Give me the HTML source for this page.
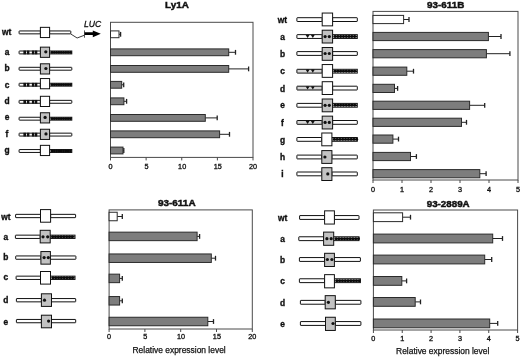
<!DOCTYPE html>
<html><head><meta charset="utf-8"><style>html,body{margin:0;padding:0;background:#fff;width:520px;height:357px;overflow:hidden;}svg{display:block;will-change:transform;}</style></head><body>
<svg width="520" height="357" viewBox="0 0 520 357" font-family='"Liberation Sans", sans-serif' fill="#111">
<text x="176.9" y="8.3" font-size="9.7" font-weight="bold" text-anchor="middle" textLength="23.8" lengthAdjust="spacingAndGlyphs" stroke="#111" stroke-width="0.45">Ly1A</text>
<rect x="110.5" y="22.3" width="142.5" height="135.1" fill="none" stroke="#4a4a4a" stroke-width="1"/>
<line x1="110.5" y1="157.4" x2="110.5" y2="160.4" stroke="#4a4a4a" stroke-width="1"/>
<text x="110.5" y="168.7" font-size="6.6" text-anchor="middle" textLength="4.04" lengthAdjust="spacingAndGlyphs" stroke="#111" stroke-width="0.3">0</text>
<line x1="146.12" y1="157.4" x2="146.12" y2="160.4" stroke="#4a4a4a" stroke-width="1"/>
<text x="146.53" y="168.7" font-size="6.6" text-anchor="middle" textLength="4.04" lengthAdjust="spacingAndGlyphs" stroke="#111" stroke-width="0.3">5</text>
<line x1="181.75" y1="157.4" x2="181.75" y2="160.4" stroke="#4a4a4a" stroke-width="1"/>
<text x="182.15" y="168.7" font-size="6.6" text-anchor="middle" textLength="8.07" lengthAdjust="spacingAndGlyphs" stroke="#111" stroke-width="0.3">10</text>
<line x1="217.38" y1="157.4" x2="217.38" y2="160.4" stroke="#4a4a4a" stroke-width="1"/>
<text x="217.78" y="168.7" font-size="6.6" text-anchor="middle" textLength="8.07" lengthAdjust="spacingAndGlyphs" stroke="#111" stroke-width="0.3">15</text>
<line x1="253" y1="157.4" x2="253" y2="160.4" stroke="#4a4a4a" stroke-width="1"/>
<text x="253" y="168.7" font-size="6.6" text-anchor="middle" textLength="8.07" lengthAdjust="spacingAndGlyphs" stroke="#111" stroke-width="0.3">20</text>
<line x1="119" y1="34.3" x2="120.6" y2="34.3" stroke="#222" stroke-width="1"/>
<line x1="120.6" y1="31.9" x2="120.6" y2="36.7" stroke="#222" stroke-width="1.3"/>
<rect x="110.5" y="30.9" width="8.5" height="6.8" fill="#ffffff" stroke="#2b2b2b" stroke-width="1"/>
<line x1="228.7" y1="52.3" x2="235.5" y2="52.3" stroke="#222" stroke-width="1"/>
<line x1="235.5" y1="49.9" x2="235.5" y2="54.7" stroke="#222" stroke-width="1.3"/>
<rect x="110.5" y="48.9" width="118.2" height="6.8" fill="#7d7d7d" stroke="#2b2b2b" stroke-width="1"/>
<line x1="228.7" y1="68.9" x2="248.6" y2="68.9" stroke="#222" stroke-width="1"/>
<line x1="248.6" y1="66.5" x2="248.6" y2="71.3" stroke="#222" stroke-width="1.3"/>
<rect x="110.5" y="65.5" width="118.2" height="6.8" fill="#7d7d7d" stroke="#2b2b2b" stroke-width="1"/>
<line x1="121.7" y1="84.8" x2="123.7" y2="84.8" stroke="#222" stroke-width="1"/>
<line x1="123.7" y1="82.4" x2="123.7" y2="87.2" stroke="#222" stroke-width="1.3"/>
<rect x="110.5" y="81.4" width="11.2" height="6.8" fill="#7d7d7d" stroke="#2b2b2b" stroke-width="1"/>
<line x1="123.9" y1="101.3" x2="126.6" y2="101.3" stroke="#222" stroke-width="1"/>
<line x1="126.6" y1="98.9" x2="126.6" y2="103.7" stroke="#222" stroke-width="1.3"/>
<rect x="110.5" y="97.9" width="13.4" height="6.8" fill="#7d7d7d" stroke="#2b2b2b" stroke-width="1"/>
<line x1="205.3" y1="117.9" x2="217.2" y2="117.9" stroke="#222" stroke-width="1"/>
<line x1="217.2" y1="115.5" x2="217.2" y2="120.3" stroke="#222" stroke-width="1.3"/>
<rect x="110.5" y="114.5" width="94.8" height="6.8" fill="#7d7d7d" stroke="#2b2b2b" stroke-width="1"/>
<line x1="219.6" y1="134.3" x2="229.5" y2="134.3" stroke="#222" stroke-width="1"/>
<line x1="229.5" y1="131.9" x2="229.5" y2="136.7" stroke="#222" stroke-width="1.3"/>
<rect x="110.5" y="130.9" width="109.1" height="6.8" fill="#7d7d7d" stroke="#2b2b2b" stroke-width="1"/>
<line x1="123" y1="150.5" x2="123.8" y2="150.5" stroke="#222" stroke-width="1"/>
<line x1="123.8" y1="148.1" x2="123.8" y2="152.9" stroke="#222" stroke-width="1.3"/>
<rect x="110.5" y="147.1" width="12.5" height="6.8" fill="#7d7d7d" stroke="#2b2b2b" stroke-width="1"/>
<text x="6.6" y="35" font-size="8.4" font-weight="bold" text-anchor="middle" stroke="#111" stroke-width="0.35">wt</text>
<rect x="19.1" y="30.95" width="21.3" height="2.9" rx="0.4" fill="#ffffff" stroke="#111" stroke-width="1"/>
<rect x="49.6" y="30.95" width="21.2" height="2.9" rx="0.4" fill="#ffffff" stroke="#111" stroke-width="1"/>
<rect x="40.4" y="27.35" width="9.2" height="10.2" fill="#ffffff" stroke="#111" stroke-width="1"/>
<text x="7" y="55" font-size="8.4" font-weight="bold" text-anchor="middle" stroke="#111" stroke-width="0.35">a</text>
<rect x="19.1" y="51" width="21.3" height="2.9" rx="0.4" fill="#ffffff" stroke="#111" stroke-width="1"/>
<rect x="23.4" y="50.6" width="2.6" height="3.7" fill="#111"/>
<rect x="26.9" y="50.6" width="2.5" height="3.7" fill="#111"/>
<rect x="31.9" y="50.6" width="2.5" height="3.7" fill="#111"/>
<rect x="35" y="50.6" width="2.3" height="3.7" fill="#111"/>
<rect x="49.6" y="51" width="22.2" height="2.9" fill="#ffffff" stroke="#111" stroke-width="1"/>
<rect x="50.6" y="51.81" width="20.9" height="1.28" fill="#0a0a0a"/>
<circle cx="52" cy="52.45" r="1.4" fill="#0a0a0a"/>
<circle cx="54.3" cy="52.45" r="1.4" fill="#0a0a0a"/>
<circle cx="56.6" cy="52.45" r="1.4" fill="#0a0a0a"/>
<circle cx="58.9" cy="52.45" r="1.4" fill="#0a0a0a"/>
<circle cx="61.2" cy="52.45" r="1.4" fill="#0a0a0a"/>
<circle cx="63.5" cy="52.45" r="1.4" fill="#0a0a0a"/>
<circle cx="65.8" cy="52.45" r="1.4" fill="#0a0a0a"/>
<circle cx="68.1" cy="52.45" r="1.4" fill="#0a0a0a"/>
<circle cx="70.4" cy="52.45" r="1.4" fill="#0a0a0a"/>
<rect x="40.4" y="47.15" width="9.2" height="10.2" fill="#c2c2c2" stroke="#111" stroke-width="1"/>
<circle cx="45.8" cy="51.85" r="1.6" fill="#111"/>
<text x="7" y="70.9" font-size="8.4" font-weight="bold" text-anchor="middle" stroke="#111" stroke-width="0.35">b</text>
<rect x="19.1" y="67.3" width="21.3" height="2.9" rx="0.4" fill="#ffffff" stroke="#111" stroke-width="1"/>
<rect x="49.6" y="67.3" width="22.2" height="2.9" rx="0.4" fill="#ffffff" stroke="#111" stroke-width="1"/>
<rect x="40.4" y="63.8" width="9.2" height="10.2" fill="#c2c2c2" stroke="#111" stroke-width="1"/>
<circle cx="45.9" cy="68.5" r="1.6" fill="#111"/>
<text x="7" y="87.9" font-size="8.4" font-weight="bold" text-anchor="middle" stroke="#111" stroke-width="0.35">c</text>
<rect x="19.1" y="83.25" width="21.3" height="2.9" rx="0.4" fill="#ffffff" stroke="#111" stroke-width="1"/>
<rect x="23.4" y="82.85" width="2.6" height="3.7" fill="#111"/>
<rect x="26.9" y="82.85" width="2.5" height="3.7" fill="#111"/>
<rect x="31.9" y="82.85" width="2.5" height="3.7" fill="#111"/>
<rect x="35" y="82.85" width="2.3" height="3.7" fill="#111"/>
<rect x="49.6" y="83.25" width="22.2" height="2.9" fill="#ffffff" stroke="#111" stroke-width="1"/>
<rect x="50.6" y="84.06" width="20.9" height="1.28" fill="#0a0a0a"/>
<circle cx="52" cy="84.7" r="1.4" fill="#0a0a0a"/>
<circle cx="54.3" cy="84.7" r="1.4" fill="#0a0a0a"/>
<circle cx="56.6" cy="84.7" r="1.4" fill="#0a0a0a"/>
<circle cx="58.9" cy="84.7" r="1.4" fill="#0a0a0a"/>
<circle cx="61.2" cy="84.7" r="1.4" fill="#0a0a0a"/>
<circle cx="63.5" cy="84.7" r="1.4" fill="#0a0a0a"/>
<circle cx="65.8" cy="84.7" r="1.4" fill="#0a0a0a"/>
<circle cx="68.1" cy="84.7" r="1.4" fill="#0a0a0a"/>
<circle cx="70.4" cy="84.7" r="1.4" fill="#0a0a0a"/>
<rect x="40.4" y="78.55" width="9.2" height="10.2" fill="#ffffff" stroke="#111" stroke-width="1"/>
<text x="7" y="103.9" font-size="8.4" font-weight="bold" text-anchor="middle" stroke="#111" stroke-width="0.35">d</text>
<rect x="19.1" y="100.35" width="21.3" height="2.9" rx="0.4" fill="#ffffff" stroke="#111" stroke-width="1"/>
<rect x="23.4" y="99.95" width="2.6" height="3.7" fill="#111"/>
<rect x="26.9" y="99.95" width="2.5" height="3.7" fill="#111"/>
<rect x="31.9" y="99.95" width="2.5" height="3.7" fill="#111"/>
<rect x="35" y="99.95" width="2.3" height="3.7" fill="#111"/>
<rect x="49.6" y="100.35" width="22.2" height="2.9" rx="0.4" fill="#ffffff" stroke="#111" stroke-width="1"/>
<rect x="40.4" y="96.3" width="9.2" height="10.2" fill="#ffffff" stroke="#111" stroke-width="1"/>
<text x="7" y="120.2" font-size="8.4" font-weight="bold" text-anchor="middle" stroke="#111" stroke-width="0.35">e</text>
<rect x="19.1" y="117.25" width="21.3" height="2.9" rx="0.4" fill="#ffffff" stroke="#111" stroke-width="1"/>
<rect x="49.6" y="117.25" width="22.2" height="2.9" fill="#ffffff" stroke="#111" stroke-width="1"/>
<rect x="50.6" y="118.06" width="20.9" height="1.28" fill="#0a0a0a"/>
<circle cx="52" cy="118.7" r="1.4" fill="#0a0a0a"/>
<circle cx="54.3" cy="118.7" r="1.4" fill="#0a0a0a"/>
<circle cx="56.6" cy="118.7" r="1.4" fill="#0a0a0a"/>
<circle cx="58.9" cy="118.7" r="1.4" fill="#0a0a0a"/>
<circle cx="61.2" cy="118.7" r="1.4" fill="#0a0a0a"/>
<circle cx="63.5" cy="118.7" r="1.4" fill="#0a0a0a"/>
<circle cx="65.8" cy="118.7" r="1.4" fill="#0a0a0a"/>
<circle cx="68.1" cy="118.7" r="1.4" fill="#0a0a0a"/>
<circle cx="70.4" cy="118.7" r="1.4" fill="#0a0a0a"/>
<rect x="40.4" y="112.75" width="9.2" height="10.2" fill="#c2c2c2" stroke="#111" stroke-width="1"/>
<circle cx="45.1" cy="117.45" r="1.6" fill="#111"/>
<text x="7" y="136.9" font-size="8.4" font-weight="bold" text-anchor="middle" stroke="#111" stroke-width="0.35">f</text>
<rect x="19.1" y="133.15" width="21.3" height="2.9" rx="0.4" fill="#ffffff" stroke="#111" stroke-width="1"/>
<rect x="23.4" y="132.75" width="2.6" height="3.7" fill="#111"/>
<rect x="26.9" y="132.75" width="2.5" height="3.7" fill="#111"/>
<rect x="31.9" y="132.75" width="2.5" height="3.7" fill="#111"/>
<rect x="35" y="132.75" width="2.3" height="3.7" fill="#111"/>
<rect x="49.6" y="133.15" width="22.2" height="2.9" rx="0.4" fill="#ffffff" stroke="#111" stroke-width="1"/>
<rect x="40.4" y="129.25" width="9.2" height="10.2" fill="#c2c2c2" stroke="#111" stroke-width="1"/>
<circle cx="46" cy="133.95" r="1.6" fill="#111"/>
<text x="7" y="152.5" font-size="8.4" font-weight="bold" text-anchor="middle" stroke="#111" stroke-width="0.35">g</text>
<rect x="19.1" y="149.55" width="21.3" height="2.9" rx="0.4" fill="#ffffff" stroke="#111" stroke-width="1"/>
<rect x="49.6" y="149.55" width="22.2" height="2.9" fill="#ffffff" stroke="#111" stroke-width="1"/>
<rect x="50.6" y="150.36" width="20.9" height="1.28" fill="#0a0a0a"/>
<circle cx="52" cy="151" r="1.4" fill="#0a0a0a"/>
<circle cx="54.3" cy="151" r="1.4" fill="#0a0a0a"/>
<circle cx="56.6" cy="151" r="1.4" fill="#0a0a0a"/>
<circle cx="58.9" cy="151" r="1.4" fill="#0a0a0a"/>
<circle cx="61.2" cy="151" r="1.4" fill="#0a0a0a"/>
<circle cx="63.5" cy="151" r="1.4" fill="#0a0a0a"/>
<circle cx="65.8" cy="151" r="1.4" fill="#0a0a0a"/>
<circle cx="68.1" cy="151" r="1.4" fill="#0a0a0a"/>
<circle cx="70.4" cy="151" r="1.4" fill="#0a0a0a"/>
<rect x="40.4" y="145.35" width="9.2" height="10.2" fill="#ffffff" stroke="#111" stroke-width="1"/>
<path d="M70.8,34.0 L77.1,38.0 L84.5,35.2" fill="none" stroke="#222" stroke-width="0.9"/>
<line x1="84.5" y1="30.4" x2="84.5" y2="37.7" stroke="#444" stroke-width="0.9"/>
<path d="M84.6,32.3 L92.8,32.3 L92.8,30.4 L100.8,33.7 L92.8,37.3 L92.8,35.1 L84.6,35.1 Z" fill="#000"/>
<text x="84.0" y="26.8" font-size="8.6" font-style="italic" stroke="#111" stroke-width="0.3">LUC</text>
<text x="445.7" y="7.9" font-size="9.7" font-weight="bold" text-anchor="middle" textLength="37.2" lengthAdjust="spacingAndGlyphs" stroke="#111" stroke-width="0.45">93-611B</text>
<rect x="373" y="11.4" width="145" height="168.6" fill="none" stroke="#4a4a4a" stroke-width="1"/>
<line x1="373" y1="180" x2="373" y2="183" stroke="#4a4a4a" stroke-width="1"/>
<text x="373" y="191.5" font-size="6.6" text-anchor="middle" textLength="4.04" lengthAdjust="spacingAndGlyphs" stroke="#111" stroke-width="0.3">0</text>
<line x1="402" y1="180" x2="402" y2="183" stroke="#4a4a4a" stroke-width="1"/>
<text x="402" y="191.5" font-size="6.6" text-anchor="middle" textLength="4.04" lengthAdjust="spacingAndGlyphs" stroke="#111" stroke-width="0.3">1</text>
<line x1="431" y1="180" x2="431" y2="183" stroke="#4a4a4a" stroke-width="1"/>
<text x="431" y="191.5" font-size="6.6" text-anchor="middle" textLength="4.04" lengthAdjust="spacingAndGlyphs" stroke="#111" stroke-width="0.3">2</text>
<line x1="460" y1="180" x2="460" y2="183" stroke="#4a4a4a" stroke-width="1"/>
<text x="460" y="191.5" font-size="6.6" text-anchor="middle" textLength="4.04" lengthAdjust="spacingAndGlyphs" stroke="#111" stroke-width="0.3">3</text>
<line x1="489" y1="180" x2="489" y2="183" stroke="#4a4a4a" stroke-width="1"/>
<text x="489" y="191.5" font-size="6.6" text-anchor="middle" textLength="4.04" lengthAdjust="spacingAndGlyphs" stroke="#111" stroke-width="0.3">4</text>
<line x1="518" y1="180" x2="518" y2="183" stroke="#4a4a4a" stroke-width="1"/>
<text x="518" y="191.5" font-size="6.6" text-anchor="middle" textLength="4.04" lengthAdjust="spacingAndGlyphs" stroke="#111" stroke-width="0.3">5</text>
<line x1="403.6" y1="19.5" x2="409" y2="19.5" stroke="#222" stroke-width="1"/>
<line x1="409" y1="17.1" x2="409" y2="21.9" stroke="#222" stroke-width="1.3"/>
<rect x="373" y="15.4" width="30.6" height="8.2" fill="#ffffff" stroke="#2b2b2b" stroke-width="1"/>
<line x1="488.4" y1="36.5" x2="501" y2="36.5" stroke="#222" stroke-width="1"/>
<line x1="501" y1="34.1" x2="501" y2="38.9" stroke="#222" stroke-width="1.3"/>
<rect x="373" y="32.4" width="115.4" height="8.2" fill="#7d7d7d" stroke="#2b2b2b" stroke-width="1"/>
<line x1="486.4" y1="53.7" x2="509.9" y2="53.7" stroke="#222" stroke-width="1"/>
<line x1="509.9" y1="51.3" x2="509.9" y2="56.1" stroke="#222" stroke-width="1.3"/>
<rect x="373" y="49.6" width="113.4" height="8.2" fill="#7d7d7d" stroke="#2b2b2b" stroke-width="1"/>
<line x1="406.8" y1="71.2" x2="413.5" y2="71.2" stroke="#222" stroke-width="1"/>
<line x1="413.5" y1="68.8" x2="413.5" y2="73.6" stroke="#222" stroke-width="1.3"/>
<rect x="373" y="67.1" width="33.8" height="8.2" fill="#7d7d7d" stroke="#2b2b2b" stroke-width="1"/>
<line x1="394.5" y1="88.4" x2="397.6" y2="88.4" stroke="#222" stroke-width="1"/>
<line x1="397.6" y1="86" x2="397.6" y2="90.8" stroke="#222" stroke-width="1.3"/>
<rect x="373" y="84.3" width="21.5" height="8.2" fill="#7d7d7d" stroke="#2b2b2b" stroke-width="1"/>
<line x1="469.6" y1="105.3" x2="484.7" y2="105.3" stroke="#222" stroke-width="1"/>
<line x1="484.7" y1="102.9" x2="484.7" y2="107.7" stroke="#222" stroke-width="1.3"/>
<rect x="373" y="101.2" width="96.6" height="8.2" fill="#7d7d7d" stroke="#2b2b2b" stroke-width="1"/>
<line x1="461.5" y1="122.3" x2="466.5" y2="122.3" stroke="#222" stroke-width="1"/>
<line x1="466.5" y1="119.9" x2="466.5" y2="124.7" stroke="#222" stroke-width="1.3"/>
<rect x="373" y="118.2" width="88.5" height="8.2" fill="#7d7d7d" stroke="#2b2b2b" stroke-width="1"/>
<line x1="392.9" y1="139.1" x2="398.5" y2="139.1" stroke="#222" stroke-width="1"/>
<line x1="398.5" y1="136.7" x2="398.5" y2="141.5" stroke="#222" stroke-width="1.3"/>
<rect x="373" y="135" width="19.9" height="8.2" fill="#7d7d7d" stroke="#2b2b2b" stroke-width="1"/>
<line x1="410.5" y1="156.5" x2="416.4" y2="156.5" stroke="#222" stroke-width="1"/>
<line x1="416.4" y1="154.1" x2="416.4" y2="158.9" stroke="#222" stroke-width="1.3"/>
<rect x="373" y="152.4" width="37.5" height="8.2" fill="#7d7d7d" stroke="#2b2b2b" stroke-width="1"/>
<line x1="479.8" y1="173.7" x2="486.1" y2="173.7" stroke="#222" stroke-width="1"/>
<line x1="486.1" y1="171.3" x2="486.1" y2="176.1" stroke="#222" stroke-width="1.3"/>
<rect x="373" y="169.6" width="106.8" height="8.2" fill="#7d7d7d" stroke="#2b2b2b" stroke-width="1"/>
<text x="282.5" y="22.6" font-size="8.4" font-weight="bold" text-anchor="middle" stroke="#111" stroke-width="0.35">wt</text>
<rect x="296.9" y="17.7" width="25.3" height="3.8" rx="0.4" fill="#ffffff" stroke="#111" stroke-width="1"/>
<rect x="332.6" y="17.7" width="24.7" height="3.8" rx="0.4" fill="#ffffff" stroke="#111" stroke-width="1"/>
<rect x="322.2" y="13.05" width="10.4" height="12.8" fill="#ffffff" stroke="#111" stroke-width="1"/>
<text x="282.5" y="39.8" font-size="8.4" font-weight="bold" text-anchor="middle" stroke="#111" stroke-width="0.35">a</text>
<rect x="296.9" y="34.65" width="25.3" height="3.8" rx="0.4" fill="#ffffff" stroke="#111" stroke-width="1"/>
<path d="M305.7,35.05 Q307.6,34.25 309.5,35.05 L307.6,38.05 Z" fill="#111"/>
<path d="M310.9,35.05 Q312.8,34.25 314.7,35.05 L312.8,38.05 Z" fill="#111"/>
<rect x="332.6" y="34.65" width="24.7" height="3.8" fill="#ffffff" stroke="#111" stroke-width="1"/>
<rect x="333.6" y="35.71" width="23.4" height="1.67" fill="#0a0a0a"/>
<circle cx="335.05" cy="36.55" r="1.45" fill="#0a0a0a"/>
<circle cx="337.85" cy="36.55" r="1.45" fill="#0a0a0a"/>
<circle cx="340.65" cy="36.55" r="1.45" fill="#0a0a0a"/>
<circle cx="343.45" cy="36.55" r="1.45" fill="#0a0a0a"/>
<circle cx="346.25" cy="36.55" r="1.45" fill="#0a0a0a"/>
<circle cx="349.05" cy="36.55" r="1.45" fill="#0a0a0a"/>
<circle cx="351.85" cy="36.55" r="1.45" fill="#0a0a0a"/>
<circle cx="354.65" cy="36.55" r="1.45" fill="#0a0a0a"/>
<rect x="322.2" y="30.2" width="10.4" height="12.8" fill="#c2c2c2" stroke="#111" stroke-width="1"/>
<circle cx="325.1" cy="36.55" r="1.6" fill="#111"/>
<circle cx="329.3" cy="36.55" r="1.6" fill="#111"/>
<text x="282.5" y="56.8" font-size="8.4" font-weight="bold" text-anchor="middle" stroke="#111" stroke-width="0.35">b</text>
<rect x="296.9" y="51.6" width="25.3" height="3.8" rx="0.4" fill="#ffffff" stroke="#111" stroke-width="1"/>
<rect x="332.6" y="51.6" width="24.7" height="3.8" rx="0.4" fill="#ffffff" stroke="#111" stroke-width="1"/>
<rect x="322.2" y="47.5" width="10.4" height="12.8" fill="#c2c2c2" stroke="#111" stroke-width="1"/>
<circle cx="325.1" cy="53.5" r="1.6" fill="#111"/>
<circle cx="329.3" cy="53.5" r="1.6" fill="#111"/>
<text x="282.5" y="74" font-size="8.4" font-weight="bold" text-anchor="middle" stroke="#111" stroke-width="0.35">c</text>
<rect x="296.9" y="69.3" width="25.3" height="3.8" rx="0.4" fill="#d6d6d6" stroke="#111" stroke-width="1"/>
<path d="M305.7,69.7 Q307.6,68.9 309.5,69.7 L307.6,72.7 Z" fill="#111"/>
<path d="M310.9,69.7 Q312.8,68.9 314.7,69.7 L312.8,72.7 Z" fill="#111"/>
<rect x="332.6" y="69.3" width="24.7" height="3.8" fill="#ffffff" stroke="#111" stroke-width="1"/>
<rect x="333.6" y="70.36" width="23.4" height="1.67" fill="#0a0a0a"/>
<circle cx="335.05" cy="71.2" r="1.45" fill="#0a0a0a"/>
<circle cx="337.85" cy="71.2" r="1.45" fill="#0a0a0a"/>
<circle cx="340.65" cy="71.2" r="1.45" fill="#0a0a0a"/>
<circle cx="343.45" cy="71.2" r="1.45" fill="#0a0a0a"/>
<circle cx="346.25" cy="71.2" r="1.45" fill="#0a0a0a"/>
<circle cx="349.05" cy="71.2" r="1.45" fill="#0a0a0a"/>
<circle cx="351.85" cy="71.2" r="1.45" fill="#0a0a0a"/>
<circle cx="354.65" cy="71.2" r="1.45" fill="#0a0a0a"/>
<rect x="322.2" y="64.55" width="10.4" height="12.8" fill="#ffffff" stroke="#111" stroke-width="1"/>
<text x="282.5" y="92.2" font-size="8.4" font-weight="bold" text-anchor="middle" stroke="#111" stroke-width="0.35">d</text>
<rect x="296.9" y="86.2" width="25.3" height="3.8" rx="0.4" fill="#d6d6d6" stroke="#111" stroke-width="1"/>
<path d="M305.7,86.6 Q307.6,85.8 309.5,86.6 L307.6,89.6 Z" fill="#111"/>
<path d="M310.9,86.6 Q312.8,85.8 314.7,86.6 L312.8,89.6 Z" fill="#111"/>
<rect x="332.6" y="86.2" width="24.7" height="3.8" rx="0.4" fill="#ffffff" stroke="#111" stroke-width="1"/>
<rect x="322.2" y="81.7" width="10.4" height="12.8" fill="#ffffff" stroke="#111" stroke-width="1"/>
<text x="282.5" y="108" font-size="8.4" font-weight="bold" text-anchor="middle" stroke="#111" stroke-width="0.35">e</text>
<rect x="296.9" y="103.4" width="25.3" height="3.8" rx="0.4" fill="#ffffff" stroke="#111" stroke-width="1"/>
<rect x="332.6" y="103.4" width="24.7" height="3.8" fill="#ffffff" stroke="#111" stroke-width="1"/>
<rect x="333.6" y="104.46" width="23.4" height="1.67" fill="#0a0a0a"/>
<circle cx="335.05" cy="105.3" r="1.45" fill="#0a0a0a"/>
<circle cx="337.85" cy="105.3" r="1.45" fill="#0a0a0a"/>
<circle cx="340.65" cy="105.3" r="1.45" fill="#0a0a0a"/>
<circle cx="343.45" cy="105.3" r="1.45" fill="#0a0a0a"/>
<circle cx="346.25" cy="105.3" r="1.45" fill="#0a0a0a"/>
<circle cx="349.05" cy="105.3" r="1.45" fill="#0a0a0a"/>
<circle cx="351.85" cy="105.3" r="1.45" fill="#0a0a0a"/>
<circle cx="354.65" cy="105.3" r="1.45" fill="#0a0a0a"/>
<rect x="322.2" y="99" width="10.4" height="12.8" fill="#c2c2c2" stroke="#111" stroke-width="1"/>
<circle cx="325.1" cy="105.3" r="1.6" fill="#111"/>
<circle cx="329.3" cy="105.3" r="1.6" fill="#111"/>
<text x="282.5" y="125.6" font-size="8.4" font-weight="bold" text-anchor="middle" stroke="#111" stroke-width="0.35">f</text>
<rect x="296.9" y="120.5" width="25.3" height="3.8" rx="0.4" fill="#d6d6d6" stroke="#111" stroke-width="1"/>
<path d="M305.7,120.9 Q307.6,120.1 309.5,120.9 L307.6,123.9 Z" fill="#111"/>
<path d="M310.9,120.9 Q312.8,120.1 314.7,120.9 L312.8,123.9 Z" fill="#111"/>
<rect x="332.6" y="120.5" width="24.7" height="3.8" rx="0.4" fill="#ffffff" stroke="#111" stroke-width="1"/>
<rect x="322.2" y="116.15" width="10.4" height="12.8" fill="#c2c2c2" stroke="#111" stroke-width="1"/>
<circle cx="325.1" cy="122.4" r="1.6" fill="#111"/>
<circle cx="329.3" cy="122.4" r="1.6" fill="#111"/>
<text x="282.5" y="142.6" font-size="8.4" font-weight="bold" text-anchor="middle" stroke="#111" stroke-width="0.35">g</text>
<rect x="296.9" y="137.5" width="24.9" height="3.8" rx="0.4" fill="#ffffff" stroke="#111" stroke-width="1"/>
<rect x="331.9" y="137.5" width="25.4" height="3.8" fill="#ffffff" stroke="#111" stroke-width="1"/>
<rect x="332.9" y="138.56" width="24.1" height="1.67" fill="#0a0a0a"/>
<circle cx="334.35" cy="139.4" r="1.45" fill="#0a0a0a"/>
<circle cx="337.15" cy="139.4" r="1.45" fill="#0a0a0a"/>
<circle cx="339.95" cy="139.4" r="1.45" fill="#0a0a0a"/>
<circle cx="342.75" cy="139.4" r="1.45" fill="#0a0a0a"/>
<circle cx="345.55" cy="139.4" r="1.45" fill="#0a0a0a"/>
<circle cx="348.35" cy="139.4" r="1.45" fill="#0a0a0a"/>
<circle cx="351.15" cy="139.4" r="1.45" fill="#0a0a0a"/>
<circle cx="353.95" cy="139.4" r="1.45" fill="#0a0a0a"/>
<circle cx="356.75" cy="139.4" r="1.45" fill="#0a0a0a"/>
<rect x="321.8" y="133" width="10.1" height="12.8" fill="#ffffff" stroke="#111" stroke-width="1"/>
<text x="282.5" y="160" font-size="8.4" font-weight="bold" text-anchor="middle" stroke="#111" stroke-width="0.35">h</text>
<rect x="296.9" y="155.1" width="24.9" height="3.8" rx="0.4" fill="#ffffff" stroke="#111" stroke-width="1"/>
<rect x="331.9" y="155.1" width="25.4" height="3.8" rx="0.4" fill="#ffffff" stroke="#111" stroke-width="1"/>
<rect x="321.8" y="150.6" width="10.1" height="12.8" fill="#c2c2c2" stroke="#111" stroke-width="1"/>
<circle cx="324.9" cy="157" r="1.6" fill="#111"/>
<text x="282.5" y="176.8" font-size="8.4" font-weight="bold" text-anchor="middle" stroke="#111" stroke-width="0.35">i</text>
<rect x="296.9" y="172" width="24.9" height="3.8" rx="0.4" fill="#ffffff" stroke="#111" stroke-width="1"/>
<rect x="331.9" y="172" width="25.4" height="3.8" rx="0.4" fill="#ffffff" stroke="#111" stroke-width="1"/>
<rect x="321.8" y="167.7" width="10.1" height="12.8" fill="#c2c2c2" stroke="#111" stroke-width="1"/>
<circle cx="327.8" cy="173.9" r="1.6" fill="#111"/>
<text x="176.75" y="205.7" font-size="9.7" font-weight="bold" text-anchor="middle" textLength="37.7" lengthAdjust="spacingAndGlyphs" stroke="#111" stroke-width="0.45">93-611A</text>
<rect x="109.1" y="209.9" width="143.2" height="119.1" fill="none" stroke="#4a4a4a" stroke-width="1"/>
<line x1="109.1" y1="329" x2="109.1" y2="332" stroke="#4a4a4a" stroke-width="1"/>
<text x="109.1" y="339.2" font-size="6.6" text-anchor="middle" textLength="4.04" lengthAdjust="spacingAndGlyphs" stroke="#111" stroke-width="0.3">0</text>
<line x1="144.9" y1="329" x2="144.9" y2="332" stroke="#4a4a4a" stroke-width="1"/>
<text x="145.3" y="339.2" font-size="6.6" text-anchor="middle" textLength="4.04" lengthAdjust="spacingAndGlyphs" stroke="#111" stroke-width="0.3">5</text>
<line x1="180.7" y1="329" x2="180.7" y2="332" stroke="#4a4a4a" stroke-width="1"/>
<text x="181.1" y="339.2" font-size="6.6" text-anchor="middle" textLength="8.07" lengthAdjust="spacingAndGlyphs" stroke="#111" stroke-width="0.3">10</text>
<line x1="216.5" y1="329" x2="216.5" y2="332" stroke="#4a4a4a" stroke-width="1"/>
<text x="216.9" y="339.2" font-size="6.6" text-anchor="middle" textLength="8.07" lengthAdjust="spacingAndGlyphs" stroke="#111" stroke-width="0.3">15</text>
<line x1="252.3" y1="329" x2="252.3" y2="332" stroke="#4a4a4a" stroke-width="1"/>
<text x="252.3" y="339.2" font-size="6.6" text-anchor="middle" textLength="8.07" lengthAdjust="spacingAndGlyphs" stroke="#111" stroke-width="0.3">20</text>
<line x1="117.2" y1="216.5" x2="122.3" y2="216.5" stroke="#222" stroke-width="1"/>
<line x1="122.3" y1="214.1" x2="122.3" y2="218.9" stroke="#222" stroke-width="1.3"/>
<rect x="109.1" y="212.25" width="8.1" height="8.5" fill="#ffffff" stroke="#2b2b2b" stroke-width="1"/>
<line x1="197.1" y1="236.4" x2="199.6" y2="236.4" stroke="#222" stroke-width="1"/>
<line x1="199.6" y1="234" x2="199.6" y2="238.8" stroke="#222" stroke-width="1.3"/>
<rect x="109.1" y="232.15" width="88" height="8.5" fill="#7d7d7d" stroke="#2b2b2b" stroke-width="1"/>
<line x1="211.3" y1="258.2" x2="215.5" y2="258.2" stroke="#222" stroke-width="1"/>
<line x1="215.5" y1="255.8" x2="215.5" y2="260.6" stroke="#222" stroke-width="1.3"/>
<rect x="109.1" y="253.95" width="102.2" height="8.5" fill="#7d7d7d" stroke="#2b2b2b" stroke-width="1"/>
<line x1="119.6" y1="278.4" x2="122.3" y2="278.4" stroke="#222" stroke-width="1"/>
<line x1="122.3" y1="276" x2="122.3" y2="280.8" stroke="#222" stroke-width="1.3"/>
<rect x="109.1" y="274.15" width="10.5" height="8.5" fill="#7d7d7d" stroke="#2b2b2b" stroke-width="1"/>
<line x1="119.6" y1="300.8" x2="122.3" y2="300.8" stroke="#222" stroke-width="1"/>
<line x1="122.3" y1="298.4" x2="122.3" y2="303.2" stroke="#222" stroke-width="1.3"/>
<rect x="109.1" y="296.55" width="10.5" height="8.5" fill="#7d7d7d" stroke="#2b2b2b" stroke-width="1"/>
<line x1="207.8" y1="321.5" x2="213.5" y2="321.5" stroke="#222" stroke-width="1"/>
<line x1="213.5" y1="319.1" x2="213.5" y2="323.9" stroke="#222" stroke-width="1.3"/>
<rect x="109.1" y="317.25" width="98.7" height="8.5" fill="#7d7d7d" stroke="#2b2b2b" stroke-width="1"/>
<text x="179.1" y="352.5" font-size="8.4" text-anchor="middle" textLength="93.2" lengthAdjust="spacingAndGlyphs" stroke="#111" stroke-width="0.25">Relative expression level</text>
<text x="5.9" y="219.5" font-size="8.4" font-weight="bold" text-anchor="middle" stroke="#111" stroke-width="0.35">wt</text>
<rect x="15.6" y="214.35" width="24.9" height="3.3" rx="0.4" fill="#ffffff" stroke="#111" stroke-width="1"/>
<rect x="50.6" y="214.35" width="25" height="3.3" rx="0.4" fill="#ffffff" stroke="#111" stroke-width="1"/>
<rect x="40.5" y="209.6" width="10.1" height="12.6" fill="#ffffff" stroke="#111" stroke-width="1"/>
<text x="5.9" y="239.5" font-size="8.4" font-weight="bold" text-anchor="middle" stroke="#111" stroke-width="0.35">a</text>
<rect x="15.4" y="235.15" width="24.8" height="3.3" rx="0.4" fill="#ffffff" stroke="#111" stroke-width="1"/>
<rect x="50.2" y="235.15" width="24.8" height="3.3" fill="#ffffff" stroke="#111" stroke-width="1"/>
<rect x="51.2" y="236.07" width="23.5" height="1.45" fill="#0a0a0a"/>
<circle cx="52.65" cy="236.8" r="1.45" fill="#0a0a0a"/>
<circle cx="55.45" cy="236.8" r="1.45" fill="#0a0a0a"/>
<circle cx="58.25" cy="236.8" r="1.45" fill="#0a0a0a"/>
<circle cx="61.05" cy="236.8" r="1.45" fill="#0a0a0a"/>
<circle cx="63.85" cy="236.8" r="1.45" fill="#0a0a0a"/>
<circle cx="66.65" cy="236.8" r="1.45" fill="#0a0a0a"/>
<circle cx="69.45" cy="236.8" r="1.45" fill="#0a0a0a"/>
<circle cx="72.25" cy="236.8" r="1.45" fill="#0a0a0a"/>
<rect x="40.2" y="230.3" width="10" height="12.6" fill="#c2c2c2" stroke="#111" stroke-width="1"/>
<circle cx="43" cy="236.8" r="1.6" fill="#111"/>
<circle cx="47.7" cy="236.8" r="1.6" fill="#111"/>
<text x="5.9" y="260.4" font-size="8.4" font-weight="bold" text-anchor="middle" stroke="#111" stroke-width="0.35">b</text>
<rect x="15.7" y="255.95" width="25.2" height="3.3" rx="0.4" fill="#ffffff" stroke="#111" stroke-width="1"/>
<rect x="50.4" y="255.95" width="25.5" height="3.3" rx="0.4" fill="#ffffff" stroke="#111" stroke-width="1"/>
<rect x="40.9" y="251.55" width="9.5" height="12.6" fill="#c2c2c2" stroke="#111" stroke-width="1"/>
<circle cx="44.1" cy="257.6" r="1.6" fill="#111"/>
<circle cx="48.3" cy="257.6" r="1.6" fill="#111"/>
<text x="5.9" y="280.4" font-size="8.4" font-weight="bold" text-anchor="middle" stroke="#111" stroke-width="0.35">c</text>
<rect x="16.1" y="276.15" width="24.4" height="3.3" rx="0.4" fill="#ffffff" stroke="#111" stroke-width="1"/>
<rect x="50.5" y="276.15" width="24.5" height="3.3" fill="#ffffff" stroke="#111" stroke-width="1"/>
<rect x="51.5" y="277.07" width="23.2" height="1.45" fill="#0a0a0a"/>
<circle cx="52.95" cy="277.8" r="1.45" fill="#0a0a0a"/>
<circle cx="55.75" cy="277.8" r="1.45" fill="#0a0a0a"/>
<circle cx="58.55" cy="277.8" r="1.45" fill="#0a0a0a"/>
<circle cx="61.35" cy="277.8" r="1.45" fill="#0a0a0a"/>
<circle cx="64.15" cy="277.8" r="1.45" fill="#0a0a0a"/>
<circle cx="66.95" cy="277.8" r="1.45" fill="#0a0a0a"/>
<circle cx="69.75" cy="277.8" r="1.45" fill="#0a0a0a"/>
<circle cx="72.55" cy="277.8" r="1.45" fill="#0a0a0a"/>
<rect x="40.5" y="271.5" width="10" height="12.6" fill="#ffffff" stroke="#111" stroke-width="1"/>
<text x="5.9" y="302.8" font-size="8.4" font-weight="bold" text-anchor="middle" stroke="#111" stroke-width="0.35">d</text>
<rect x="16.4" y="298.55" width="25" height="3.3" rx="0.4" fill="#ffffff" stroke="#111" stroke-width="1"/>
<rect x="51.5" y="298.55" width="24.2" height="3.3" rx="0.4" fill="#ffffff" stroke="#111" stroke-width="1"/>
<rect x="41.4" y="293.8" width="10.1" height="12.6" fill="#c2c2c2" stroke="#111" stroke-width="1"/>
<circle cx="44.5" cy="300.2" r="1.6" fill="#111"/>
<text x="5.9" y="324.6" font-size="8.4" font-weight="bold" text-anchor="middle" stroke="#111" stroke-width="0.35">e</text>
<rect x="16.4" y="319.45" width="25" height="3.3" rx="0.4" fill="#ffffff" stroke="#111" stroke-width="1"/>
<rect x="51.5" y="319.45" width="24.2" height="3.3" rx="0.4" fill="#ffffff" stroke="#111" stroke-width="1"/>
<rect x="41.4" y="315.2" width="10.1" height="12.6" fill="#c2c2c2" stroke="#111" stroke-width="1"/>
<circle cx="48.6" cy="321.1" r="1.6" fill="#111"/>
<text x="448.2" y="206.6" font-size="9.7" font-weight="bold" text-anchor="middle" textLength="43" lengthAdjust="spacingAndGlyphs" stroke="#111" stroke-width="0.45">93-2889A</text>
<rect x="373.4" y="210" width="144.2" height="120" fill="none" stroke="#4a4a4a" stroke-width="1"/>
<line x1="373.4" y1="330" x2="373.4" y2="333" stroke="#4a4a4a" stroke-width="1"/>
<text x="373.4" y="341" font-size="6.6" text-anchor="middle" textLength="4.04" lengthAdjust="spacingAndGlyphs" stroke="#111" stroke-width="0.3">0</text>
<line x1="402.24" y1="330" x2="402.24" y2="333" stroke="#4a4a4a" stroke-width="1"/>
<text x="402.24" y="341" font-size="6.6" text-anchor="middle" textLength="4.04" lengthAdjust="spacingAndGlyphs" stroke="#111" stroke-width="0.3">1</text>
<line x1="431.08" y1="330" x2="431.08" y2="333" stroke="#4a4a4a" stroke-width="1"/>
<text x="431.08" y="341" font-size="6.6" text-anchor="middle" textLength="4.04" lengthAdjust="spacingAndGlyphs" stroke="#111" stroke-width="0.3">2</text>
<line x1="459.92" y1="330" x2="459.92" y2="333" stroke="#4a4a4a" stroke-width="1"/>
<text x="459.92" y="341" font-size="6.6" text-anchor="middle" textLength="4.04" lengthAdjust="spacingAndGlyphs" stroke="#111" stroke-width="0.3">3</text>
<line x1="488.76" y1="330" x2="488.76" y2="333" stroke="#4a4a4a" stroke-width="1"/>
<text x="488.76" y="341" font-size="6.6" text-anchor="middle" textLength="4.04" lengthAdjust="spacingAndGlyphs" stroke="#111" stroke-width="0.3">4</text>
<line x1="517.6" y1="330" x2="517.6" y2="333" stroke="#4a4a4a" stroke-width="1"/>
<text x="517.6" y="341" font-size="6.6" text-anchor="middle" textLength="4.04" lengthAdjust="spacingAndGlyphs" stroke="#111" stroke-width="0.3">5</text>
<line x1="402.6" y1="217.2" x2="410.5" y2="217.2" stroke="#222" stroke-width="1"/>
<line x1="410.5" y1="214.8" x2="410.5" y2="219.6" stroke="#222" stroke-width="1.3"/>
<rect x="373.4" y="212.8" width="29.2" height="8.8" fill="#ffffff" stroke="#2b2b2b" stroke-width="1"/>
<line x1="492.7" y1="238.5" x2="502.5" y2="238.5" stroke="#222" stroke-width="1"/>
<line x1="502.5" y1="236.1" x2="502.5" y2="240.9" stroke="#222" stroke-width="1.3"/>
<rect x="373.4" y="234.1" width="119.3" height="8.8" fill="#7d7d7d" stroke="#2b2b2b" stroke-width="1"/>
<line x1="484.7" y1="259.5" x2="491.7" y2="259.5" stroke="#222" stroke-width="1"/>
<line x1="491.7" y1="257.1" x2="491.7" y2="261.9" stroke="#222" stroke-width="1.3"/>
<rect x="373.4" y="255.1" width="111.3" height="8.8" fill="#7d7d7d" stroke="#2b2b2b" stroke-width="1"/>
<line x1="401.8" y1="280.9" x2="406.6" y2="280.9" stroke="#222" stroke-width="1"/>
<line x1="406.6" y1="278.5" x2="406.6" y2="283.3" stroke="#222" stroke-width="1.3"/>
<rect x="373.4" y="276.5" width="28.4" height="8.8" fill="#7d7d7d" stroke="#2b2b2b" stroke-width="1"/>
<line x1="415.2" y1="301.9" x2="420.5" y2="301.9" stroke="#222" stroke-width="1"/>
<line x1="420.5" y1="299.5" x2="420.5" y2="304.3" stroke="#222" stroke-width="1.3"/>
<rect x="373.4" y="297.5" width="41.8" height="8.8" fill="#7d7d7d" stroke="#2b2b2b" stroke-width="1"/>
<line x1="489.7" y1="323.4" x2="497.7" y2="323.4" stroke="#222" stroke-width="1"/>
<line x1="497.7" y1="321" x2="497.7" y2="325.8" stroke="#222" stroke-width="1.3"/>
<rect x="373.4" y="319" width="116.3" height="8.8" fill="#7d7d7d" stroke="#2b2b2b" stroke-width="1"/>
<text x="442.7" y="354.4" font-size="8.4" text-anchor="middle" textLength="93.2" lengthAdjust="spacingAndGlyphs" stroke="#111" stroke-width="0.25">Relative expression level</text>
<text x="282.6" y="220.6" font-size="8.4" font-weight="bold" text-anchor="middle" stroke="#111" stroke-width="0.35">wt</text>
<rect x="299.6" y="215.57" width="25" height="3.85" rx="0.4" fill="#ffffff" stroke="#111" stroke-width="1"/>
<rect x="334.4" y="215.57" width="24.6" height="3.85" rx="0.4" fill="#ffffff" stroke="#111" stroke-width="1"/>
<rect x="324.6" y="210.85" width="9.8" height="13.2" fill="#ffffff" stroke="#111" stroke-width="1"/>
<text x="282.6" y="241.8" font-size="8.4" font-weight="bold" text-anchor="middle" stroke="#111" stroke-width="0.35">a</text>
<rect x="298.8" y="236.77" width="24.8" height="3.85" rx="0.4" fill="#ffffff" stroke="#111" stroke-width="1"/>
<rect x="333.7" y="236.77" width="25.3" height="3.85" fill="#ffffff" stroke="#111" stroke-width="1"/>
<rect x="334.7" y="237.85" width="24" height="1.69" fill="#0a0a0a"/>
<circle cx="336.15" cy="238.7" r="1.45" fill="#0a0a0a"/>
<circle cx="338.95" cy="238.7" r="1.45" fill="#0a0a0a"/>
<circle cx="341.75" cy="238.7" r="1.45" fill="#0a0a0a"/>
<circle cx="344.55" cy="238.7" r="1.45" fill="#0a0a0a"/>
<circle cx="347.35" cy="238.7" r="1.45" fill="#0a0a0a"/>
<circle cx="350.15" cy="238.7" r="1.45" fill="#0a0a0a"/>
<circle cx="352.95" cy="238.7" r="1.45" fill="#0a0a0a"/>
<circle cx="355.75" cy="238.7" r="1.45" fill="#0a0a0a"/>
<circle cx="358.55" cy="238.7" r="1.45" fill="#0a0a0a"/>
<rect x="323.6" y="232.1" width="10.1" height="13.2" fill="#c2c2c2" stroke="#111" stroke-width="1"/>
<circle cx="326.9" cy="238.7" r="1.6" fill="#111"/>
<circle cx="331.2" cy="238.7" r="1.6" fill="#111"/>
<text x="282.6" y="262.8" font-size="8.4" font-weight="bold" text-anchor="middle" stroke="#111" stroke-width="0.35">b</text>
<rect x="299.4" y="257.57" width="25.2" height="3.85" rx="0.4" fill="#ffffff" stroke="#111" stroke-width="1"/>
<rect x="334.4" y="257.57" width="26" height="3.85" rx="0.4" fill="#ffffff" stroke="#111" stroke-width="1"/>
<rect x="324.6" y="253.3" width="9.8" height="13.2" fill="#c2c2c2" stroke="#111" stroke-width="1"/>
<circle cx="327.4" cy="259.5" r="1.6" fill="#111"/>
<circle cx="331.9" cy="259.5" r="1.6" fill="#111"/>
<text x="282.6" y="283.8" font-size="8.4" font-weight="bold" text-anchor="middle" stroke="#111" stroke-width="0.35">c</text>
<rect x="299.4" y="278.77" width="25.2" height="3.85" rx="0.4" fill="#ffffff" stroke="#111" stroke-width="1"/>
<rect x="334.4" y="278.77" width="26" height="3.85" fill="#ffffff" stroke="#111" stroke-width="1"/>
<rect x="335.4" y="279.85" width="24.7" height="1.69" fill="#0a0a0a"/>
<circle cx="336.85" cy="280.7" r="1.45" fill="#0a0a0a"/>
<circle cx="339.65" cy="280.7" r="1.45" fill="#0a0a0a"/>
<circle cx="342.45" cy="280.7" r="1.45" fill="#0a0a0a"/>
<circle cx="345.25" cy="280.7" r="1.45" fill="#0a0a0a"/>
<circle cx="348.05" cy="280.7" r="1.45" fill="#0a0a0a"/>
<circle cx="350.85" cy="280.7" r="1.45" fill="#0a0a0a"/>
<circle cx="353.65" cy="280.7" r="1.45" fill="#0a0a0a"/>
<circle cx="356.45" cy="280.7" r="1.45" fill="#0a0a0a"/>
<circle cx="359.25" cy="280.7" r="1.45" fill="#0a0a0a"/>
<rect x="324.6" y="274.65" width="9.8" height="13.2" fill="#ffffff" stroke="#111" stroke-width="1"/>
<text x="282.6" y="306" font-size="8.4" font-weight="bold" text-anchor="middle" stroke="#111" stroke-width="0.35">d</text>
<rect x="300.4" y="300.38" width="24.8" height="3.85" rx="0.4" fill="#ffffff" stroke="#111" stroke-width="1"/>
<rect x="335.3" y="300.38" width="25.6" height="3.85" rx="0.4" fill="#ffffff" stroke="#111" stroke-width="1"/>
<rect x="325.2" y="295.65" width="10.1" height="13.2" fill="#c2c2c2" stroke="#111" stroke-width="1"/>
<circle cx="328.4" cy="302.3" r="1.6" fill="#111"/>
<text x="282.6" y="326.6" font-size="8.4" font-weight="bold" text-anchor="middle" stroke="#111" stroke-width="0.35">e</text>
<rect x="300.4" y="321.57" width="25.1" height="3.85" rx="0.4" fill="#ffffff" stroke="#111" stroke-width="1"/>
<rect x="335.3" y="321.57" width="25.6" height="3.85" rx="0.4" fill="#ffffff" stroke="#111" stroke-width="1"/>
<rect x="325.5" y="317.25" width="9.8" height="13.2" fill="#c2c2c2" stroke="#111" stroke-width="1"/>
<circle cx="333" cy="323.5" r="1.6" fill="#111"/>
</svg>
</body></html>
